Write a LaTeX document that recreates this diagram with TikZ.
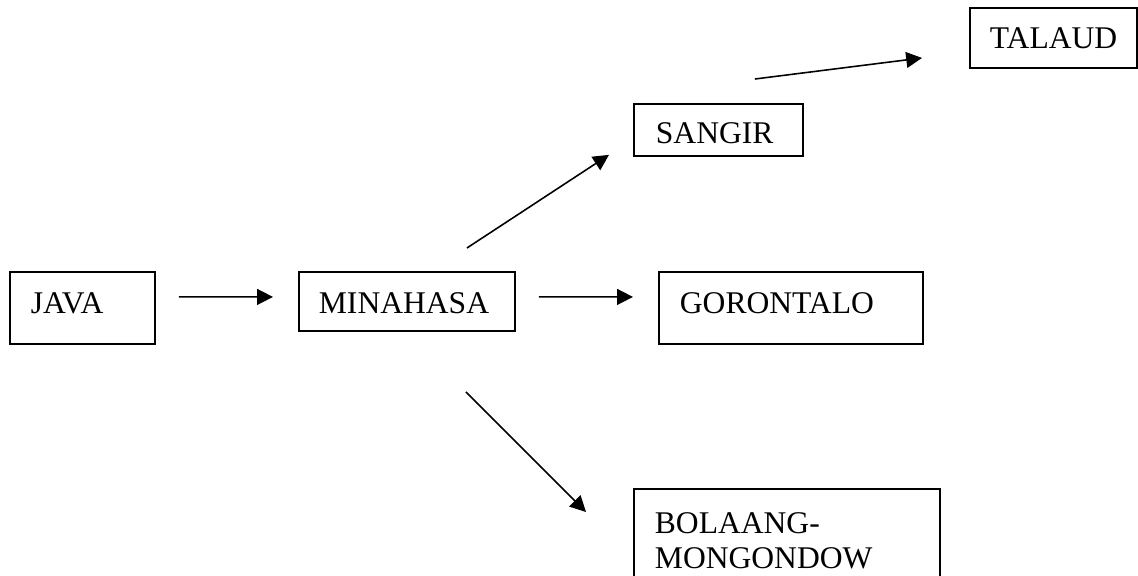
\documentclass[tikz,border=0pt]{standalone}
\usepackage{fontspec}
\setmainfont{Liberation Serif}
\usetikzlibrary{arrows.meta}

\begin{document}
\begin{tikzpicture}[x=0.38pt,y=-0.38pt,
		boxnode/.style={draw,line width=0.7pt,anchor=north west,inner ysep=0pt,inner xsep=7.98pt,align=left,font=\fontsize{12}{13.3}\selectfont},
		arr/.style={line width=0.6pt,-{Triangle[length=6pt,width=6pt]}}]
	\useasboundingbox (0,0) rectangle (1138,575);
	\clip (0,0) rectangle (1138,575);
	\node[boxnode,text width=39.14pt,text height=15.96pt,text depth=11.4pt] (java) at (9,271) {JAVA};
	\node[boxnode,inner xsep=7.6pt,text width=66.88pt,text height=15.96pt,text depth=6.46pt] (minahasa) at (298,271) {MINAHASA};
	\node[boxnode,text width=84.36pt,text height=15.96pt,text depth=11.4pt] (gorontalo) at (658,271) {GORONTALO};
	\node[boxnode,inner xsep=8.36pt,text width=47.5pt,text height=15.2pt,text depth=4.56pt] (sangir) at (633,103) {SANGIR};
	\node[boxnode,inner xsep=0pt,minimum width=63.6pt,text height=15.58pt,text depth=7.22pt] (talaud) at (969,7) {TALAUD};
	\node[boxnode,text width=100.32pt,text height=17.1pt,text depth=25.46pt] (bolaang) at (633,488) {BOLAANG-\\MONGONDOW};
	% connectors
	\draw[arr] ([shift={(23,-11)}]java.east) -- ([shift={(-25,-4.5)}]minahasa.west);
	\draw[arr] ([shift={(23,-4.5)}]minahasa.east) -- ([shift={(-25,-11)}]gorontalo.west);
	\draw[arr] ([shift={(60,-23)}]minahasa.north) -- ([shift={(-24,-2)}]sangir.south west);
	\draw[arr] ([shift={(-49,-24)}]sangir.north east) -- ([shift={(-47,20)}]talaud.west);
	\draw[arr] ([shift={(59,60)}]minahasa.south) -- ([shift={(-47,24)}]bolaang.north west);
\end{tikzpicture}
\end{document}
